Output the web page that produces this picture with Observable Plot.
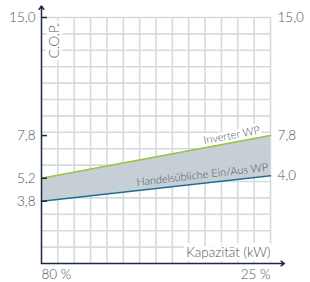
<!DOCTYPE html>
<html><head><meta charset="utf-8">
<script src="https://cdn.jsdelivr.net/npm/d3@7"></script>
<script src="https://cdn.jsdelivr.net/npm/@observablehq/plot@0.6"></script>
<style>
html,body{margin:0;padding:0;background:#fff;}
svg{display:block;}
svg text{font-weight:300;}
</style>
</head><body>
<div id="chart"></div>
<script>
// Data
const capacitySteps = [0, 14];           // left (80 %) to right (25 %)
const xTickLabels = ["80 %", "25 %"];
const inverterCOP = [5.2, 7.8];
const onOffCOP = [3.8, 5.35];
const leftTicks = [15, 7.8, 5.2, 3.8];
const rightLabels = ["15,0", "7,8", "4,0"];
const seriesNames = ["Inverter WP", "Handelsübliche Ein/Aus WP"];
const yTitle = "C.O.P.";
const xTitle = "Kapazität (kW)";
const gridX = d3.range(1, 15);
const gridY = d3.range(1, 16);

const rows = capacitySteps.map((x, i) => ({x, inv: inverterCOP[i], onoff: onOffCOP[i]}));
const last = rows.length - 1;
const rightRows = [
  {y: 15, t: rightLabels[0]},
  {y: inverterCOP[last], t: rightLabels[1]},
  {y: onOffCOP[last], t: rightLabels[2]}
];
const fmt = d => d.toFixed(1).replace(".", ",");

const txt = "#4c5563", axisC = "#1c2a45", gridC = "#d3dbe1";
const font = "Lato, 'Open Sans', sans-serif";
const fs = 13.5;

const chart = Plot.plot({
  width: 310, height: 282,
  marginLeft: 41, marginRight: 40, marginTop: 17, marginBottom: 19,
  x: {domain: [0, 14], axis: null},
  y: {domain: [0, 15], axis: null},
  style: {fontFamily: font, fontSize: fs + "px", color: txt, background: "#fff"},
  marks: [
    Plot.ruleX(gridX, {x: d => d, y1: 0, y2: 15, stroke: gridC, strokeWidth: 1.6}),
    Plot.ruleY(gridY, {y: d => d, x1: 0, x2: 14, stroke: gridC, strokeWidth: 1.6}),
    // white backed titles
    Plot.text([yTitle], {x: 0, y: 15, text: d => d, rotate: -90, textAnchor: "end", lineAnchor: "middle",
      dx: 13, dy: 6, fontSize: fs, fill: txt, stroke: "white", strokeWidth: 7, paintOrder: "stroke"}),
    Plot.text([xTitle], {x: 14, y: 0, text: d => d, textAnchor: "end", lineAnchor: "middle",
      dx: 0, dy: -11, fontSize: fs, fill: txt, stroke: "white", strokeWidth: 8, paintOrder: "stroke"}),
    Plot.text([seriesNames[0]], {x: 14, y: inverterCOP[last], text: d => d, textAnchor: "end", lineAnchor: "bottom",
      rotate: -10.6, dx: -10, dy: -2, fontSize: 11, fill: txt, stroke: "white", strokeWidth: 6, paintOrder: "stroke"}),
    // band and lines
    Plot.areaY(rows, {x: "x", y1: "onoff", y2: "inv", fill: "#c6cfd5"}),
    Plot.line(rows, {x: "x", y: "inv", stroke: "#9cc43b", strokeWidth: 1.5}),
    Plot.line(rows, {x: "x", y: "onoff", stroke: "#1d6c94", strokeWidth: 1.5}),
    Plot.text([seriesNames[1]], {x: 14, y: onOffCOP[last], text: d => d, textAnchor: "end", lineAnchor: "bottom",
      rotate: -6.6, dx: -2, dy: -5, fontSize: 11, fill: txt}),
    // axes
    Plot.arrow([{x1: 0, y1: 0, x2: 0, y2: 15.7}], {x1: "x1", y1: "y1", x2: "x2", y2: "y2",
      stroke: axisC, strokeWidth: 1.5, headLength: 4, headAngle: 70}),
    Plot.arrow([{x1: 0, y1: 0, x2: 14.85, y2: 0}], {x1: "x1", y1: "y1", x2: "x2", y2: "y2",
      stroke: axisC, strokeWidth: 1.5, headLength: 4, headAngle: 70}),
    Plot.axisY({ticks: leftTicks, tickFormat: fmt, tickSize: 6, dx: 6, tickPadding: 6,
      stroke: axisC, strokeWidth: 1.5, fontSize: fs, color: txt, fill: txt}),
    Plot.text(rightRows, {x: 14, y: "y", text: "t", textAnchor: "start", dx: 7, fontSize: fs, fill: txt}),
    Plot.text([xTickLabels[0]], {x: capacitySteps[0], y: 0, text: d => d, textAnchor: "start", dy: 11, fontSize: fs, fill: txt}),
    Plot.text([xTickLabels[1]], {x: capacitySteps[last], y: 0, text: d => d, textAnchor: "end", dy: 11, fontSize: fs, fill: txt})
  ]
});
document.getElementById("chart").appendChild(chart);
</script>
</body></html>
